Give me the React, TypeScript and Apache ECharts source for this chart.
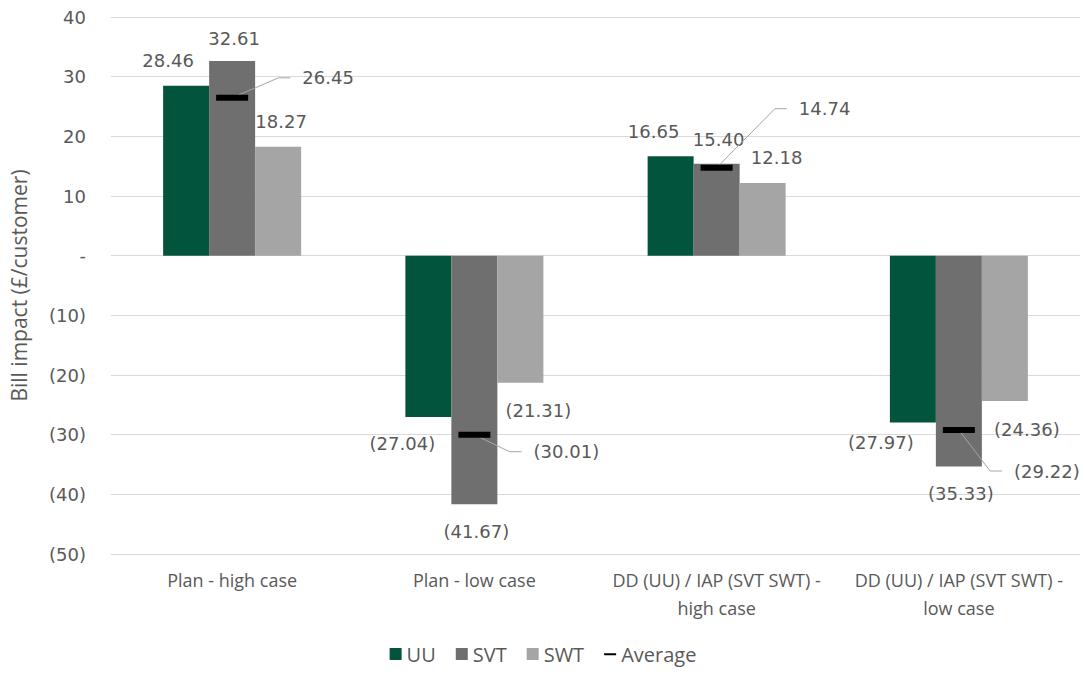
import React, { useEffect, useRef } from "react";
import * as echarts from "echarts";

// Bill impact per customer for each scenario (£/customer)
const categories = [
  "Plan - high case",
  "Plan - low case",
  "DD (UU) / IAP (SVT SWT) -\nhigh case",
  "DD (UU) / IAP (SVT SWT) -\nlow case",
];
const uuValues = [28.46, -27.04, 16.65, -27.97];
const svtValues = [32.61, -41.67, 15.4, -35.33];
const swtValues = [18.27, -21.31, 12.18, -24.36];
const averageValues = [26.45, -30.01, 14.74, -29.22];

const yMin = -50;
const yMax = 40;
const yStep = 10;

// Hand-placed label nudges (px) per category, as laid out in the report
const uuLabelOffsets = [[-18, -11], [-26, 12], [-17, -11], [-32, 6]];
const svtLabelOffsets = [[2, -9], [2, 13], [2, -10], [2, 13]];
const swtLabelOffsets = [[3, -11], [18, 14], [14, -11], [22, 14]];
const averageLabelShift = [[96, -20], [92, 17], [108, -59], [88, 41]];

const TEXT = "#595959";
const NUM_FONT = "DejaVu Sans";
const TEXT_FONT = "Open Sans";
const NUM_SIZE = 18;

const money = (v: number) => (v < 0 ? `(${(-v).toFixed(2)})` : v.toFixed(2));
const tick = (v: number) => (v === 0 ? "-" : v < 0 ? `(${-v})` : `${v}`);

function barData(values: number[], offsets: number[][]) {
  return values.map((v, i) => ({
    value: v,
    label: {
      position: v < 0 ? "bottom" : "top",
      offset: offsets[i],
    },
  }));
}

function textWidth(text: string, font: string) {
  const ctx = document.createElement("canvas").getContext("2d");
  if (!ctx) return text.length * 10;
  ctx.font = font;
  return ctx.measureText(text).width;
}

export default function App() {
  const ref = useRef<HTMLDivElement>(null);

  useEffect(() => {
    if (!ref.current) return;
    const chart = echarts.init(ref.current, undefined, { renderer: "svg" });

    const barLabel = {
      show: true,
      color: TEXT,
      fontFamily: NUM_FONT,
      fontSize: NUM_SIZE,
      distance: 5,
      formatter: (p: any) => money(p.value),
    };

    chart.setOption({
      animation: false,
      backgroundColor: "#ffffff",
      textStyle: { fontFamily: TEXT_FONT, color: TEXT },
      grid: { left: 110, right: 6, top: 17, bottom: 119, containLabel: false },
      legend: {
        bottom: 4,
        left: "center",
        itemWidth: 12,
        itemHeight: 12,
        itemGap: 20,
        textStyle: { fontFamily: TEXT_FONT, fontSize: 20, color: TEXT },
        data: [
          { name: "UU", icon: "rect" },
          { name: "SVT", icon: "rect" },
          { name: "SWT", icon: "rect" },
          {
            name: "Average",
            icon: "path://M0,0L0.01,0ZM0,5H14V7.5H0ZM0,12L0.01,12Z",
          },
        ],
      },
      xAxis: {
        type: "category",
        data: categories,
        axisLine: { show: false, onZero: false },
        axisTick: { show: false },
        axisLabel: {
          color: TEXT,
          fontFamily: TEXT_FONT,
          fontSize: 18,
          lineHeight: 28,
          margin: 12,
          interval: 0,
        },
      },
      yAxis: {
        type: "value",
        min: yMin,
        max: yMax,
        interval: yStep,
        name: "Bill impact (£/customer)",
        nameLocation: "middle",
        nameGap: 82,
        nameTextStyle: { color: TEXT, fontFamily: TEXT_FONT, fontSize: 21 },
        axisLine: { show: false },
        axisTick: { show: false },
        axisLabel: {
          color: TEXT,
          fontFamily: NUM_FONT,
          fontSize: NUM_SIZE,
          margin: 25,
          formatter: tick,
        },
        splitLine: { lineStyle: { color: "#d9d9d9", width: 1 } },
      },
      series: [
        {
          name: "UU",
          type: "bar",
          barWidth: 46,
          barGap: "0%",
          itemStyle: { color: "#03543c" },
          label: barLabel,
          data: barData(uuValues, uuLabelOffsets),
        },
        {
          name: "SVT",
          type: "bar",
          barWidth: 46,
          barGap: "0%",
          itemStyle: { color: "#6f6f6f" },
          label: barLabel,
          data: barData(svtValues, svtLabelOffsets),
        },
        {
          name: "SWT",
          type: "bar",
          barWidth: 46,
          barGap: "0%",
          itemStyle: { color: "#a5a5a5" },
          label: barLabel,
          data: barData(swtValues, swtLabelOffsets),
        },
        {
          name: "Average",
          type: "scatter",
          symbol: "rect",
          symbolSize: [32, 6],
          z: 5,
          itemStyle: { color: "#000000", opacity: 1 },
          data: averageValues,
          label: {
            show: true,
            position: "inside",
            color: TEXT,
            fontFamily: NUM_FONT,
            fontSize: NUM_SIZE,
            formatter: (p: any) => money(p.value),
          },
          labelLayout: (p: any) => ({
            dx: averageLabelShift[p.dataIndex][0],
            dy: averageLabelShift[p.dataIndex][1],
          }),
        },
      ],
    });

    // Leader lines from each average marker to its moved label
    const font = `${NUM_SIZE}px "${NUM_FONT}"`;
    const leaders = averageValues.map((v, i) => {
      const [mx, my] = chart.convertToPixel({ gridIndex: 0 }, [i, v]) as number[];
      const cx = mx + averageLabelShift[i][0];
      const cy = my + averageLabelShift[i][1];
      const left = cx - textWidth(money(v), font) / 2;
      return {
        type: "polyline",
        silent: true,
        z: 4,
        shape: {
          points: [
            [mx, my],
            [left - 24, cy],
            [left - 12, cy],
          ],
        },
        style: { stroke: "#a6a6a6", lineWidth: 1, fill: "none" },
      };
    });
    chart.setOption({ graphic: leaders });

    return () => chart.dispose();
  }, []);

  return (
    <div
      ref={ref}
      style={{ position: "fixed", left: 0, top: 0, width: 1086, height: 673 }}
    />
  );
}
